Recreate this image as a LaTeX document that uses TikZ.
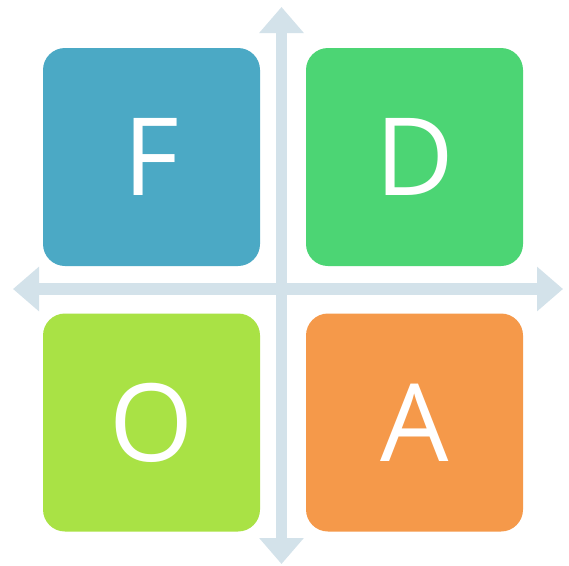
\documentclass[tikz,border=0pt]{standalone}
\usepackage{fontspec}
\setmainfont{Open Sans}
\usetikzlibrary{arrows.meta}
\definecolor{cF}{HTML}{4BA9C5}
\definecolor{cD}{HTML}{4CD574}
\definecolor{cO}{HTML}{A9E245}
\definecolor{cA}{HTML}{F5994A}
\definecolor{axis}{HTML}{D3E2EA}
\begin{document}
\begin{tikzpicture}[x=1pt,y=-1pt,
  quad/.style={fill=#1, rounded corners=22pt, minimum width=217pt, minimum height=218pt,
    inner sep=0pt, text=white, font=\fontsize{108}{108}\selectfont, anchor=center},
  axisline/.style={draw=axis, line width=11.5pt,
    {Triangle[width=43pt,length=26pt]}-{Triangle[width=43pt,length=26pt]}}]
\useasboundingbox (0,0) rectangle (569,565);
\fill[white] (0,0) rectangle (569,565);
\coordinate (top) at (281.5,7);
\coordinate (bot) at (281.5,564);
\coordinate (lft) at (13,289);
\coordinate (rgt) at (563,289);
\draw[axisline] (top) -- (bot);
\draw[axisline] (lft) -- (rgt);
\node[quad=cF] (F) at (151.5,157) {F};
\node[quad=cD] (D) at (414.5,157) {D};
\node[quad=cO] (O) at (151.5,422.5) {O};
\node[quad=cA] (A) at (414.5,422.5) {A};
\end{tikzpicture}
\end{document}
